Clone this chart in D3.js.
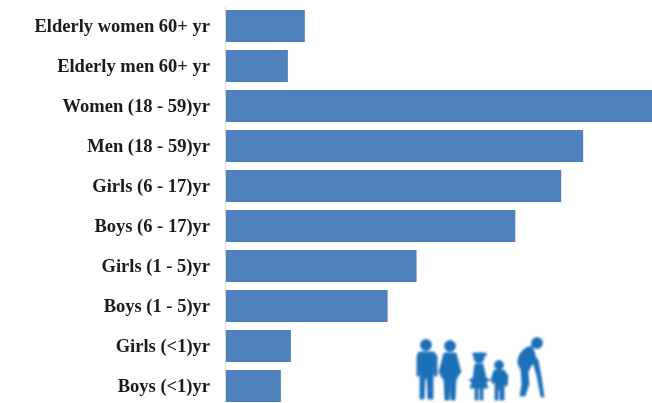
<!DOCTYPE html>
<html>
<head>
<meta charset="utf-8">
<script src="https://cdn.jsdelivr.net/npm/d3@7"></script>
<style>
  html, body { margin: 0; padding: 0; background: #fff; overflow: hidden; }
  svg { display: block; }
</style>
</head>
<body>
<div id="chart"></div>
<script>
const categories = [
  'Elderly women 60+ yr', 'Elderly men 60+ yr', 'Women (18 - 59)yr', 'Men (18 - 59)yr',
  'Girls (6 - 17)yr', 'Boys (6 - 17)yr', 'Girls (1 - 5)yr', 'Boys (1 - 5)yr',
  'Girls (<1)yr', 'Boys (<1)yr',
];
// no value axis in the picture, so values are relative bar lengths
const values = [79, 62, 427, 358, 336, 290, 191, 162, 65, 55];

const width = 652, height = 403;
const margin = { top: 6, right: 0, bottom: 0, left: 226 };

const x = d3.scaleLinear().domain([0, 427]).range([margin.left, width]);
const y = d3.scaleBand().domain(categories).range([margin.top, 406]).paddingInner(0.2).paddingOuter(0.1);

const svg = d3.select('#chart').append('svg').attr('width', width).attr('height', height);

const defs = svg.append('defs');
defs.append('filter').attr('id', 'soft').append('feGaussianBlur').attr('stdDeviation', 0.8);
defs.append('filter').attr('id', 'softText').append('feGaussianBlur').attr('stdDeviation', 0.35);

// Bars
svg.append('g').selectAll('rect')
  .data(categories)
  .join('rect')
  .attr('x', x(0))
  .attr('y', d => y(d))
  .attr('width', (d, i) => x(values[i]) - x(0))
  .attr('height', y.bandwidth())
  .attr('fill', '#4f81bd');

// Category axis
svg.append('g')
  .attr('transform', `translate(${margin.left - 1},0)`)
  .call(d3.axisLeft(y).tickSize(0).tickPadding(15))
  .call(a => a.select('.domain').attr('stroke', '#d9d9d9'))
  .call(a => a.selectAll('text')
    .attr('font-family', '"Liberation Serif", serif')
    .attr('font-weight', 'bold')
    .attr('font-size', '18.5px')
    .attr('fill', '#1a1a1a')
    .attr('filter', 'url(#softText)'));

// People pictogram, drawn in page pixels
const icon = svg.append('g')
  .attr('fill', '#1f6fb8')
  .attr('stroke', '#1f6fb8')
  .attr('stroke-width', 0.8)
  .attr('filter', 'url(#soft)');
const shape = d => icon.append('path').attr('d', d);
const head = (cx, cy, r) => icon.append('circle').attr('cx', cx).attr('cy', cy).attr('r', r);

// man
head(426, 345, 5.5);
shape('M419,352 L434,352 L437,356 L437,376 L434,376 L433,362 L433,399 L428,399 L427,378 L425,378 L424,399 L420,399 L420,362 L419,376 L417,376 L417,356 Z');
// woman
head(450, 346, 5.5);
shape('M444,353 L456,353 L461,372 L458,376 L456,380 L455,400 L451,400 L450,382 L449,400 L445,400 L444,380 L441,376 L439,372 Z');
// girl
head(479, 358, 5);
icon.append('rect').attr('x', 473).attr('y', 353).attr('width', 13).attr('height', 3);
shape('M475,364 L483,364 L486,378 L490,380 L486,382 L488,388 L483,388 L483,400 L480,400 L480,388 L478,388 L478,400 L475,400 L475,388 L470,388 L472,382 L469,380 L473,378 Z');
// boy
head(499, 365, 4.5);
shape('M494,370 L504,370 L508,376 L507,386 L505,386 L504,380 L504,400 L500,400 L500,390 L498,390 L498,400 L495,400 L495,380 L493,384 L491,380 Z');
// stooped elder with cane
head(537, 343, 5.5);
shape('M532,346 C524,347 517,354 518,364 L521,370 L522,384 L520,396 L525,396 L529,384 L528,372 L532,364 L536,364 L535,354 Z');
shape('M532,353 L538,360 L541,376 L544,397 L541,397 L537,376 L534,366 Z');
</script>
</body>
</html>
